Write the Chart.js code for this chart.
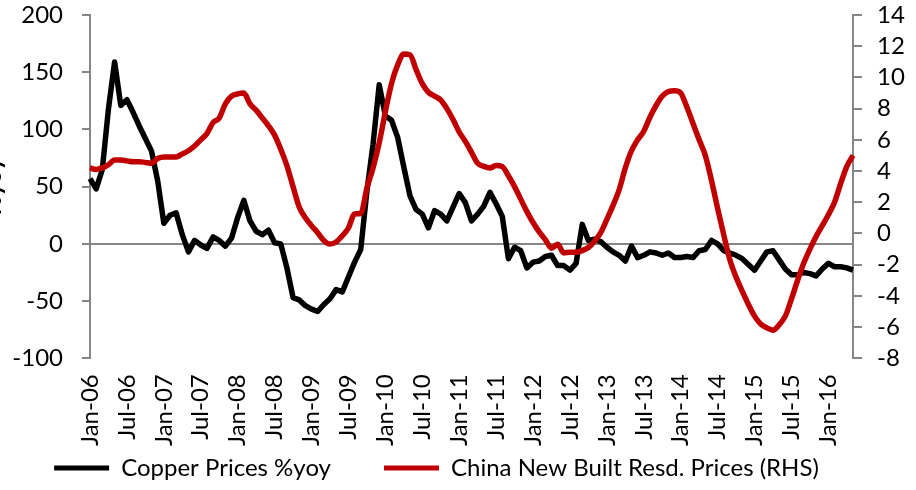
<!DOCTYPE html>
<html>
<head>
<meta charset="utf-8">
<script src="https://cdn.jsdelivr.net/npm/chart.js@4"></script>
<style>
  body { margin: 0; background: #fff; }
  #wrap { width: 916px; height: 490px; position: relative; }
</style>
</head>
<body>
<div id="wrap"><canvas id="copper-plot"></canvas></div>
<script>
// monthly data, Jan-06 .. May-16
const startYear = 2006;
const monthCount = 125;
const monthNames = ['Jan', 'Feb', 'Mar', 'Apr', 'May', 'Jun', 'Jul', 'Aug', 'Sep', 'Oct', 'Nov', 'Dec'];

// Copper Prices %yoy (left axis)
const copperYoy = [
  57, 48, 65, 118, 159, 121, 126, 115, 103, 92, 81, 55,
  18, 25, 27, 8, -7, 3, -1, -4, 6, 3, -2, 5,
  23, 38, 20, 11, 8, 12, 1, 0, -21, -47, -49, -54,
  -57, -59, -53, -48, -40, -42, -29, -16, -5, 46, 87, 139,
  112, 108, 93, 67, 42, 30, 26, 14, 29, 26, 20, 32,
  44, 36, 20, 26, 33, 45, 35, 24, -13, -3, -6, -21,
  -16, -15, -11, -10, -19, -19, -23, -17, 17, 3, 4, 2,
  -3, -7, -10, -15, -2, -12, -10, -7, -8, -10, -8, -12,
  -12, -11, -12, -6, -5, 3, 0, -6, -8, -10, -13, -18,
  -23, -15, -7, -6, -14, -22, -27, -27, -25, -26, -28, -22,
  -17, -20, -20, -21, -23
];

// China New Built Resd. Prices (right axis)
const chinaResdPrices = [
  4.2, 4.1, 4.2, 4.4, 4.7, 4.7, 4.65, 4.6, 4.6, 4.55, 4.5, 4.8,
  4.9, 4.9, 4.9, 5.1, 5.3, 5.6, 6.0, 6.4, 7.1, 7.4, 8.3, 8.8,
  8.95, 9.0, 8.3, 7.9, 7.4, 6.9, 6.3, 5.4, 4.35, 3.0, 1.7, 1.0,
  0.5, 0.05, -0.45, -0.68, -0.55, -0.15, 0.35, 1.25, 1.28, 2.9, 4.2, 5.8,
  7.8, 9.6, 10.8, 11.5, 11.45, 10.5, 9.6, 9.05, 8.8, 8.55, 8.0, 7.3,
  6.5, 5.9, 5.2, 4.5, 4.3, 4.2, 4.35, 4.28, 3.7, 3.0, 2.2, 1.4,
  0.7, 0.1, -0.4, -0.95, -0.7, -1.25, -1.2, -1.2, -1.1, -0.9, -0.5, 0.05,
  0.9, 1.8, 2.8, 4.2, 5.3, 6.0, 6.55, 7.45, 8.2, 8.8, 9.1, 9.15,
  9.0, 8.1, 7.05, 6.0, 5.0, 3.4, 1.6, -0.1, -1.7, -2.8, -3.7, -4.55,
  -5.3, -5.8, -6.05, -6.2, -5.85, -5.3, -4.2, -3.0, -1.9, -1.0, -0.2, 0.5,
  1.2, 2.0, 3.2, 4.3, 5.0
];

const seriesNames = ['Copper Prices %yoy', 'China New Built Resd. Prices (RHS)'];
const seriesColors = ['#000000', '#C00000'];

const labels = [];
for (let i = 0; i < monthCount; i++) {
  const yy = String((startYear + Math.floor(i / 12)) % 100).padStart(2, '0');
  labels.push(monthNames[i % 12] + '-' + yy);
}

Chart.defaults.font.family = 'Lato';
Chart.defaults.font.size = 24;
Chart.defaults.color = '#000';

// axis title on the left, mostly cut off by the edge
const yTitle = {
  id: 'yTitle',
  afterDraw(chart) {
    const ctx = chart.ctx;
    const a = chart.chartArea;
    ctx.save();
    ctx.translate(1, (a.top + a.bottom) / 2);
    ctx.rotate(-Math.PI / 2);
    ctx.font = 'bold 24px Lato';
    ctx.fillStyle = '#000';
    ctx.textAlign = 'center';
    ctx.textBaseline = 'alphabetic';
    ctx.fillText('%yoy', 0, 0);
    ctx.restore();
  }
};

// y axes: fixed widths, and drop the extra top/bottom padding from ticks.padding
const fitY = w => s => {
  s.width = w;
  s.paddingTop = 0;
  s.paddingBottom = 0;
};

// trailing spaces: gap between entries, and pull the row a bit to the left
const legendPad = ['       ', '       '];

const ctx = document.getElementById('copper-plot').getContext('2d');
new Chart(ctx, {
  type: 'line',
  data: {
    labels: labels,
    datasets: [{
      label: seriesNames[0],
      data: copperYoy,
      yAxisID: 'y',
      borderColor: seriesColors[0],
      backgroundColor: seriesColors[0],
      borderWidth: 5.5,
      borderJoinStyle: 'round',
      pointRadius: 0,
      tension: 0,
      order: 1
    }, {
      label: seriesNames[1],
      data: chinaResdPrices,
      yAxisID: 'y2',
      borderColor: seriesColors[1],
      backgroundColor: seriesColors[1],
      borderWidth: 5.5,
      borderJoinStyle: 'round',
      pointRadius: 0,
      cubicInterpolationMode: 'monotone',
      order: 0
    }]
  },
  options: {
    responsive: true,
    maintainAspectRatio: false,
    animation: false,
    layout: { padding: { top: 15, left: 0, right: 0, bottom: 0 } },
    plugins: {
      tooltip: { enabled: false },
      legend: {
        position: 'bottom',
        labels: {
          boxWidth: 55,
          boxHeight: 5,
          padding: 10,
          generateLabels: () => seriesNames.map((name, i) => ({
            text: name + legendPad[i],
            fillStyle: seriesColors[i],
            strokeStyle: seriesColors[i],
            lineWidth: 0,
            datasetIndex: i
          }))
        }
      }
    },
    scales: {
      x: {
        offset: false,
        afterFit: s => { s.height -= 16; },
        grid: { display: false, drawTicks: false },
        border: { display: false },
        ticks: {
          autoSkip: false,
          minRotation: 90,
          maxRotation: 90,
          padding: 16,
          callback: (v, i) => (i % 6 === 0 ? labels[i] : '')
        }
      },
      y: {
        position: 'left',
        min: -100,
        max: 200,
        afterFit: fitY(90),
        ticks: { stepSize: 50, padding: 19, autoSkip: false },
        border: { color: '#868686', width: 2 },
        grid: {
          color: c => (c.tick && c.tick.value === 0 ? '#868686' : 'rgba(0,0,0,0)'),
          lineWidth: 2,
          tickColor: '#868686',
          tickLength: 8
        }
      },
      y2: {
        position: 'right',
        min: -8,
        max: 14,
        afterFit: fitY(63),
        ticks: { stepSize: 2, padding: 15, autoSkip: false },
        border: { color: '#868686', width: 2 },
        grid: {
          drawOnChartArea: false,
          color: '#868686',
          lineWidth: 2,
          tickLength: 9
        }
      }
    }
  },
  plugins: [yTitle]
});
</script>
</body>
</html>
